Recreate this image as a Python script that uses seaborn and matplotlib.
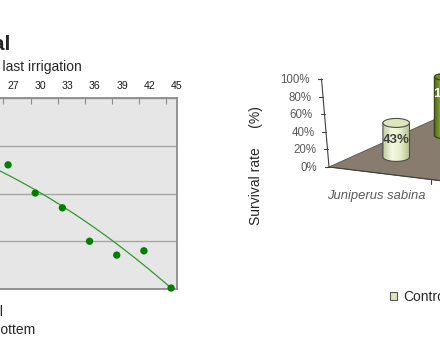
import numpy as np
import pandas as pd
import seaborn as sns
import matplotlib.pyplot as plt
from matplotlib.patches import Polygon, Ellipse, Patch
from matplotlib.colors import LinearSegmentedColormap

# left chart: values
days = [27, 30, 33, 36, 39, 42, 45]
potential = [26.0, 20.1, 17.0, 10.0, 7.1, 8.0, 0.2]
# polynomial trend line as drawn (fit includes points cut off on the left),
# read from the picture: y = c0 + c1*(x-36) + c2*(x-36)^2
trend_coef = [13.56, -1.314, -0.0188]

# right chart: 3D cylinder columns
species = ["Juniperus sabina"]
series_names = ["Control", "Treatment"]
survival_control = [43]
survival_treated = [100]
value_ticks = [0, 20, 40, 60, 80, 100]

W, H = 440, 352

sns.set_theme(style="white")
plt.rcParams["font.family"] = ["Liberation Sans", "DejaVu Sans"]

fig = plt.figure(figsize=(W / 100, H / 100), dpi=100)

# ---- left panel (plot area runs off the left edge) ----
left_px, right_px, top_px, bottom_px = -60, 176.5, 98, 289
ax = fig.add_axes([left_px / W, (H - bottom_px) / H,
                   (right_px - left_px) / W, (bottom_px - top_px) / H])
px_per_day = 9.056
xmax = 45.6
xmin = xmax - (right_px - left_px) / px_per_day
ax.set_facecolor("#e6e6e6")

df = pd.DataFrame({"day": days, "value": potential})
tx = np.linspace(xmin, xmax, 200)
trend = pd.DataFrame({"day": tx, "value": np.polyval(trend_coef[::-1], tx - 36)})
sns.lineplot(data=trend, x="day", y="value", color="#2e9a2e", lw=0.9, ax=ax)
sns.scatterplot(data=df, x="day", y="value", color="#008000", s=28,
                edgecolor="none", clip_on=False, zorder=5, ax=ax)
ax.set_xlim(xmin, xmax)
ax.set_ylim(0, 40)
ax.set_xlabel("")
ax.set_ylabel("")

ax.xaxis.tick_top()
ax.set_xticks([d + 0.58 for d in days])
ax.set_xticklabels([str(d) for d in days])
ax.set_xticks([d - 0.52 for d in days], minor=True)
ax.tick_params(axis="x", which="major", length=0, pad=5, labelsize=7.6,
               labelcolor="#1a1a1a")
ax.tick_params(axis="x", which="minor", direction="in", length=4, width=0.8,
               color="#8c8c8c", top=True, bottom=False)
ax.set_yticks([0, 10, 20, 30, 40])
ax.set_yticklabels([])
ax.tick_params(axis="y", length=0)
ax.yaxis.grid(True, color="#a6a6a6", lw=1)
ax.xaxis.grid(False)
for sp in ax.spines.values():
    sp.set_color("#8c8c8c")
    sp.set_linewidth(1.3)

# ---- overlay in pixel coordinates for free text and the 3D chart ----
ov = fig.add_axes([0, 0, 1, 1])
ov.patch.set_alpha(0)
ov.axis("off")

ov.text(10, 50, "Soil water potential", ha="right", va="baseline",
        fontsize=15, fontweight="bold")
ov.text(81.5, 71, "Days after last irrigation", ha="right", va="baseline",
        fontsize=10)
ov.text(3, 316, "Surface soil", ha="right", va="baseline", fontsize=10)
ov.text(35.5, 334, "Pot bottem", ha="right", va="baseline", fontsize=10)

origin = np.array([329.0, 167.0])
u = np.array([102.0, 12.5])      # one category along the front edge
v = np.array([1.0, -0.45])       # depth direction
row_depth = [32, 80]
row_scale = [1.0, 0.74]
r0, ry0, h100 = 13.3, 4.5, 79

floor = Polygon([origin, origin + 2 * u, origin + 2 * u + 170 * v, origin + 170 * v],
                closed=True, fc="#877c6d", ec="#5a5248", lw=0.6, zorder=1)
ov.add_patch(floor)
front = np.array([origin, origin + 2 * u])
ov.plot(front[:, 0], front[:, 1], color="#404040", lw=0.8, zorder=2)
for k in range(1, 2):
    p = origin + k * u
    ov.plot([p[0], p[0]], [p[1], p[1] + 4], color="#404040", lw=0.8, zorder=2)

# value axis
p0 = origin
p100 = origin + np.array([-7.5, -88.0])
ov.plot([p0[0], p100[0]], [p0[1], p100[1]], color="#404040", lw=0.8, zorder=2)
for val in value_ticks:
    p = p0 + val / 100 * (p100 - p0)
    ov.plot([p[0] - 4, p[0]], [p[1], p[1]], color="#404040", lw=0.8, zorder=2)
    ov.text(p[0] - 11.5, p[1] + 1, f"{val}%", ha="right", va="center",
            fontsize=8.3, color="#595959")

ov.text(256, 166, "Survival rate     (%)", rotation=90, ha="center", va="center",
        fontsize=10)

for j, name in enumerate(species):
    p = origin + (j + 0.5) * u + np.array([-3.5, 23])
    ov.text(p[0], p[1], name, ha="center", va="center", fontsize=9.4,
            style="italic", color="#595959")


def draw_cylinder(ax, cx, cy, r, ry, h, side_cols, top_col, edge, z):
    top = cy - h
    theta = np.linspace(0, np.pi, 40)
    arc = np.column_stack([cx - r * np.cos(theta), cy + ry * np.sin(theta)])
    body = np.vstack([[cx - r, top], arc, [cx + r, top]])
    clip = Polygon(body, closed=True, fc="none", ec="none")
    ax.add_patch(clip)
    cmap = LinearSegmentedColormap.from_list("side", side_cols)
    grad = np.linspace(0, 1, 64).reshape(1, -1)
    im = ax.imshow(grad, cmap=cmap, extent=(cx - r, cx + r, cy + ry, top),
                   aspect="auto", interpolation="bilinear", zorder=z)
    im.set_clip_path(clip)
    ax.add_patch(Polygon(body, closed=True, fill=False, ec=edge, lw=0.8, zorder=z + 0.1))
    ax.add_patch(Ellipse((cx, top), 2 * r, 2 * ry, fc=top_col, ec=edge, lw=0.8,
                         zorder=z + 0.2))


styles = [
    dict(side=["#c3cd9f", "#f4f8e2", "#e4ecc8", "#b3be8c"], top="#dde6bd",
         edge="#4d4d4d", text="#404040"),
    dict(side=["#4a6512", "#8aab3c", "#6a8b22", "#3c520e"], top="#6e8f26",
         edge="#2f3f0c", text="white"),
]
all_values = [survival_control, survival_treated]

for i in reversed(range(len(series_names))):
    s = row_scale[i]
    st = styles[i]
    for j, val in enumerate(all_values[i]):
        base = origin + (j + 0.345) * u + row_depth[i] * v
        h = h100 * s * val / 100
        draw_cylinder(ov, base[0], base[1], r0 * s, ry0 * s, h, st["side"],
                      st["top"], st["edge"], z=3 + 2 * (1 - i))
        ov.text(base[0] + 6 * i, base[1] - h / 2 - 12 * i, f"{val}%",
                ha="center", va="center", fontsize=9.5, fontweight="bold",
                color=st["text"], zorder=4 + 2 * (1 - i))

ov.set_xlim(0, W)
ov.set_ylim(H, 0)

handles = [Patch(fc=styles[0]["top"], ec="#555555", lw=0.8, label=series_names[0]),
           Patch(fc=styles[1]["top"], ec="#333333", lw=0.8, label=series_names[1])]
fig.legend(handles=handles, loc="center left", bbox_to_anchor=(390 / W, 1 - 297 / H),
           ncol=2, frameon=False, fontsize=10, handlelength=0.5, handleheight=0.5,
           handletextpad=0.45, borderpad=0, borderaxespad=0, columnspacing=2)

fig.savefig("out.png", dpi=100)
